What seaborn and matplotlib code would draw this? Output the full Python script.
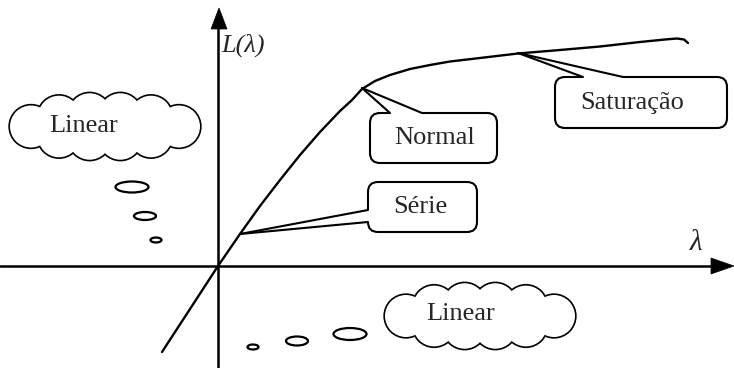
import numpy as np
import pandas as pd
import matplotlib
matplotlib.use("Agg")
import matplotlib.pyplot as plt
import seaborn as sns
from matplotlib.patches import FancyBboxPatch, Polygon, Circle, Ellipse

# ---- data: the L(lambda) characteristic (origin at axes crossing) ----
lam = [-56, 0, 22, 42, 62, 82, 102, 122, 134, 144, 157, 172, 192, 212, 232,
       262, 300, 342, 382, 422, 447, 459, 466, 470]
L = [-86, 0, 32, 60, 86, 111, 134, 155, 166, 177, 185, 191, 197, 201, 204.5,
     208, 212.5, 216, 219.5, 224, 226.5, 227.5, 226.5, 223]

callout_labels = ["Normal", "Série", "Saturação"]
cloud_label = "Linear"
y_label = "L(λ)"
x_label = "λ"

sns.set_style("white")
plt.rcParams["font.family"] = ["Liberation Serif", "DejaVu Serif"]

fig = plt.figure(figsize=(7.34, 3.68), dpi=100)
ax = fig.add_axes([0, 0, 1, 1])
X0, Y0 = 218, 266
ax.set_xlim(-X0, 734 - X0)
ax.set_ylim(Y0 - 368, Y0)
ax.axis("off")


def P(px, py):
    return (px - X0, Y0 - py)


# axes with arrows
ax.plot(*zip(P(218, 368), P(218, 26)), color="black", lw=1.8, zorder=2)
ax.add_patch(Polygon([P(219, 8), P(211, 29), P(227, 29)], closed=True,
                     fc="black", ec="black", lw=0.5, zorder=2))
ax.plot(*zip(P(0, 266), P(714, 266)), color="black", lw=1.8, zorder=2)
ax.add_patch(Polygon([P(734, 266), P(711, 258), P(711, 274)], closed=True,
                     fc="black", ec="black", lw=0.5, zorder=2))

ax.text(*P(221, 45), y_label, fontsize=19, style="italic", ha="left", va="center", zorder=8)
ax.text(*P(696, 243), x_label, fontsize=21, style="italic", ha="center", va="center", zorder=8)

# curve
df = pd.DataFrame({"lam": lam, "L": L})
sns.lineplot(data=df, x="lam", y="L", sort=False, color="black", lw=1.7, ax=ax, zorder=4)
ax.set_xlabel("")
ax.set_ylabel("")


def callout(box, tip, b1, b2, inward, text, tpos):
    x0, y0, x1, y1 = box
    bx, by = P(x0, y1)
    ax.add_patch(FancyBboxPatch((bx, by), x1 - x0, y1 - y0,
                                boxstyle="round,pad=0,rounding_size=10",
                                fc="white", ec="black", lw=1.5, zorder=3))
    dx, dy = inward
    pts = [P(*tip), P(*b1), P(b1[0] + dx, b1[1] + dy),
           P(b2[0] + dx, b2[1] + dy), P(*b2)]
    ax.add_patch(Polygon(pts, closed=True, fc="white", ec="none", zorder=3.5))
    for b in (b1, b2):
        ax.plot(*zip(P(*tip), P(*b)), color="black", lw=1.5, zorder=3.6)
    ax.text(*P(*tpos), text, fontsize=19, ha="center", va="center", zorder=8)


callout((370, 113, 497, 163), (362, 88), (390, 113), (422, 113), (0, 4),
        callout_labels[0], (435, 138))
callout((368, 182, 477, 232), (240, 234), (368, 210), (368, 222), (4, 0),
        callout_labels[1], (420, 207))
callout((555, 77, 727, 128), (518, 53), (583, 77), (623, 77), (0, 4),
        callout_labels[2], (632, 103))


def cloud(cx, cy, a, b, r, n, text, tpos):
    t = np.linspace(0, 2 * np.pi, 2000)
    ia, ib = a - r, b - r
    ex, ey = ia * np.cos(t), ib * np.sin(t)
    seg = np.hypot(np.diff(ex), np.diff(ey))
    s = np.concatenate([[0], np.cumsum(seg)])
    targets = np.linspace(0, s[-1], n, endpoint=False)
    cxs = np.interp(targets, s, ex) + cx
    cys = np.interp(targets, s, ey) + cy
    for x, y in zip(cxs, cys):
        ax.add_patch(Circle(P(x, y), r, fc="white", ec="black", lw=2.4, zorder=5))
    for x, y in zip(cxs, cys):
        ax.add_patch(Circle(P(x, y), r, fc="white", ec="none", zorder=6))
    ax.add_patch(Ellipse(P(cx, cy), 2 * ia, 2 * ib, fc="white", ec="none", zorder=6))
    ax.text(*P(*tpos), text, fontsize=19, ha="center", va="center", zorder=8)


cloud(105, 126.5, 95, 33.5, 21, 10, cloud_label, (84, 126))
cloud(480, 316, 95, 33, 21, 10, cloud_label, (461, 314))

# thought bubbles
for (px, py, w, h) in [(132, 187, 33, 11), (145, 216, 22, 8), (156, 240, 11, 5),
                       (350, 334, 33, 12), (297, 341, 22, 9), (253, 347, 11, 5)]:
    ax.add_patch(Ellipse(P(px, py), w, h, fc="white", ec="black", lw=1.6, zorder=5))

fig.savefig("out.png", dpi=100)
